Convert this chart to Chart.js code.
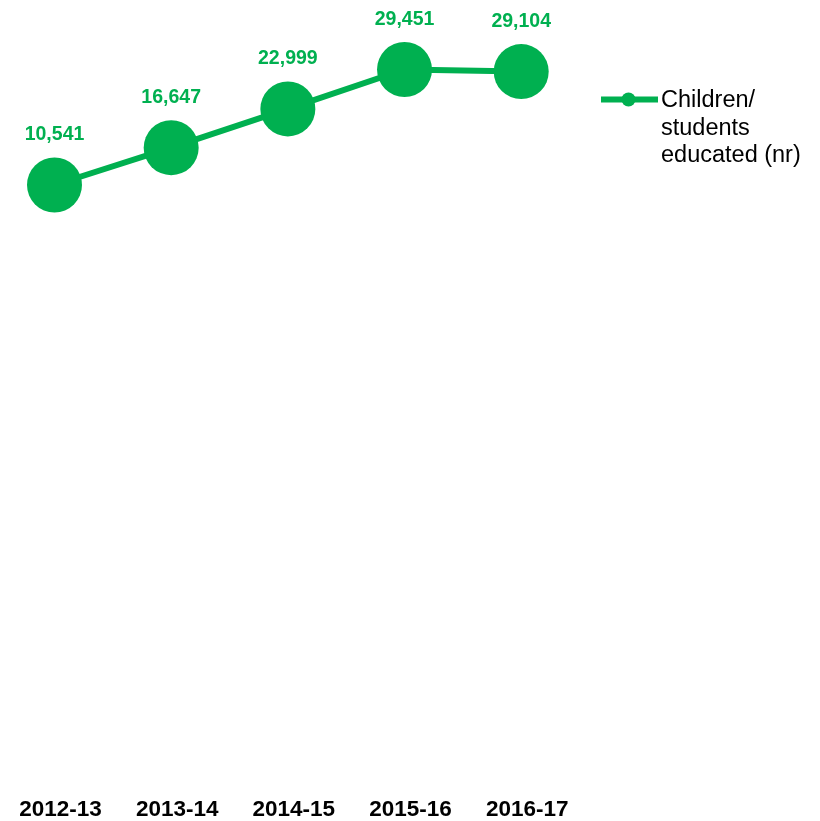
<!DOCTYPE html>
<html>
<head>
<meta charset="utf-8">
<script src="https://cdn.jsdelivr.net/npm/chart.js@4/dist/chart.umd.min.js"></script>
<style>
html,body{margin:0;padding:0;background:#fff;}
#wrap{width:820px;height:821px;position:relative;}
</style>
</head>
<body>
<div id="wrap"><canvas id="c" width="820" height="821"></canvas></div>
<script>
const categories = ["2012-13","2013-14","2014-15","2015-16","2016-17"];
const childrenEducated = [10541,16647,22999,29451,29104];
const seriesLabel = ["Children/","students","educated (nr)"];
const yRange = { min: -89821, max: 40830 };
const GREEN = "#00B050";
const FONT = '"Liberation Sans", Arial, sans-serif';

const labelsPlugin = {
  id: 'valueLabels',
  afterDatasetsDraw(chart) {
    const ctx = chart.ctx;
    const meta = chart.getDatasetMeta(0);
    ctx.save();
    ctx.fillStyle = GREEN;
    ctx.font = 'bold 19.5px ' + FONT;
    ctx.textAlign = 'center';
    ctx.textBaseline = 'middle';
    meta.data.forEach((pt, i) => {
      ctx.fillText(childrenEducated[i].toLocaleString('en-US'), pt.x, pt.y - 50);
    });
    ctx.restore();
  }
};

const legendPlugin = {
  id: 'customLegend',
  afterDraw(chart) {
    const ctx = chart.ctx;
    ctx.save();
    ctx.strokeStyle = GREEN;
    ctx.lineWidth = 6;
    ctx.beginPath();
    ctx.moveTo(601, 99.5);
    ctx.lineTo(658, 99.5);
    ctx.stroke();
    ctx.fillStyle = GREEN;
    ctx.beginPath();
    ctx.arc(628.5, 99.5, 7, 0, Math.PI * 2);
    ctx.fill();
    ctx.fillStyle = '#000';
    ctx.font = '23.5px ' + FONT;
    ctx.textAlign = 'left';
    ctx.textBaseline = 'alphabetic';
    seriesLabel.forEach((t, i) => ctx.fillText(t, 661, 107 + i * 27.5));
    ctx.restore();
  }
};

new Chart(document.getElementById('c'), {
  type: 'line',
  data: {
    labels: categories,
    datasets: [{
      label: seriesLabel.join(' '),
      data: childrenEducated,
      borderColor: GREEN,
      backgroundColor: GREEN,
      borderWidth: 6,
      pointRadius: 27.5,
      pointHoverRadius: 27.5,
      pointBackgroundColor: GREEN,
      pointBorderWidth: 0,
      tension: 0,
      clip: false
    }]
  },
  options: {
    responsive: false,
    animation: false,
    events: [],
    layout: { autoPadding: false, padding: { left: 54.5, right: 298.8, top: 0, bottom: 0 } },
    plugins: { legend: { display: false }, tooltip: { enabled: false } },
    scales: {
      x: {
        offset: false,
        grid: { display: false, drawTicks: false },
        border: { display: false },
        ticks: {
          color: '#000',
          font: { family: FONT, size: 22.5, weight: 'bold', lineHeight: 0.844 },
          padding: 2,
          labelOffset: 6,
          maxRotation: 0,
          autoSkip: false
        }
      },
      y: {
        display: false,
        min: yRange.min,
        max: yRange.max
      }
    }
  },
  plugins: [labelsPlugin, legendPlugin]
});
</script>
</body>
</html>
